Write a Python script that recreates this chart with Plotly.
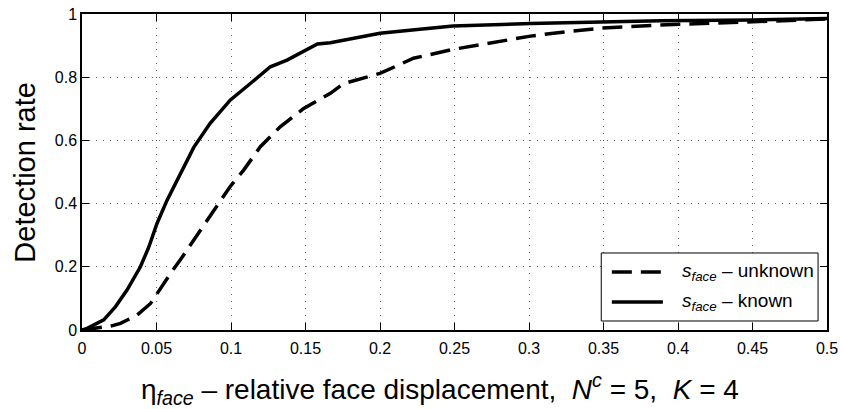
import plotly.graph_objects as go

# Detection rate vs. relative face displacement
eta_unknown = [0, 0.008, 0.019, 0.0258, 0.037, 0.046, 0.0504, 0.0594, 0.066, 0.0705,
               0.075, 0.084, 0.093, 0.0996, 0.1085, 0.1197, 0.133, 0.1488, 0.1667,
               0.1756, 0.2, 0.2225, 0.249, 0.274, 0.301, 0.325, 0.348, 0.388, 0.433, 0.5]
rate_unknown = [0, 0.005, 0.012, 0.021, 0.047, 0.084, 0.116, 0.179, 0.222, 0.253,
                0.285, 0.345, 0.411, 0.455, 0.506, 0.58, 0.643, 0.701, 0.749,
                0.78, 0.812, 0.86, 0.888, 0.909, 0.930, 0.944, 0.955, 0.965, 0.973, 0.984]

eta_known = [0, 0.0035, 0.0146, 0.0225, 0.0303, 0.0392, 0.0448, 0.0504, 0.0571, 0.0638,
             0.075, 0.086, 0.0996, 0.113, 0.1264, 0.1376, 0.15, 0.158,
             0.1667, 0.2, 0.225, 0.249, 0.301, 0.348, 0.388, 0.45, 0.5]
rate_known = [0, 0.005, 0.032, 0.074, 0.127, 0.2, 0.262, 0.338, 0.411, 0.475,
              0.578, 0.654, 0.728, 0.78, 0.833, 0.854, 0.886, 0.905,
              0.909, 0.939, 0.951, 0.962, 0.97, 0.975, 0.979, 0.981, 0.986]

x_ticks = [0, 0.05, 0.1, 0.15, 0.2, 0.25, 0.3, 0.35, 0.4, 0.45, 0.5]
x_labels = ["0", "0.05", "0.1", "0.15", "0.2", "0.25", "0.3", "0.35", "0.4", "0.45", "0.5"]
y_ticks = [0, 0.2, 0.4, 0.6, 0.8, 1]
y_labels = ["0", "0.2", "0.4", "0.6", "0.8", "1"]

series_names = ["<i>s</i><sub><i>face</i></sub> \u2013 unknown",
                "<i>s</i><sub><i>face</i></sub> \u2013 known"]
series_dash = ["20px,9px", "solid"]

FONT = "Liberation Sans, Arial, Helvetica, sans-serif"
LINE_W = 3.5

fig = go.Figure()
fig.add_trace(go.Scatter(
    x=eta_unknown, y=rate_unknown, mode="lines", name=series_names[0],
    line=dict(color="black", width=LINE_W, dash=series_dash[0]),
))
fig.add_trace(go.Scatter(
    x=eta_known, y=rate_known, mode="lines", name=series_names[1],
    line=dict(color="black", width=LINE_W, dash=series_dash[1]),
))

axis_common = dict(
    showline=True, linecolor="black", linewidth=1.5, mirror="ticks",
    ticks="inside", ticklen=7, tickcolor="black", tickwidth=1,
    showgrid=True, gridcolor="#666666", griddash="1px,6px", gridwidth=1,
    zeroline=False, automargin=False,
    tickfont=dict(family=FONT, size=16, color="black"),
)

fig.update_xaxes(range=[0, 0.5], tickvals=x_ticks, ticktext=x_labels,
                 ticklabelstandoff=3, **axis_common)
fig.update_yaxes(range=[0, 1], tickvals=y_ticks, ticktext=y_labels, **axis_common)

# Boxed legend with long line samples, placed in the lower-right corner
box = dict(x0=0.697, x1=0.988, y0=0.0285, y1=0.2437)
rows_y = [0.1835, 0.0886]
sample_x = (0.7112, 0.7797)
label_x = 0.8028

shapes = [dict(type="rect", xref="paper", yref="paper", layer="above",
               fillcolor="white", line=dict(color="black", width=1), **box)]
legend_notes = []
for name, dash, ry in zip(series_names, series_dash, rows_y):
    shapes.append(dict(type="line", xref="paper", yref="paper", layer="above",
                       x0=sample_x[0], x1=sample_x[1], y0=ry, y1=ry,
                       line=dict(color="black", width=LINE_W, dash=dash)))
    legend_notes.append(dict(text=name, xref="paper", yref="paper",
                             x=label_x, y=ry, xanchor="left", yanchor="middle",
                             showarrow=False,
                             font=dict(family=FONT, size=19, color="black")))

fig.update_layout(
    width=843, height=409,
    margin=dict(l=81.5, r=16, t=14, b=79),
    paper_bgcolor="white", plot_bgcolor="white",
    font=dict(family=FONT, color="black"),
    showlegend=False,
    shapes=shapes,
    annotations=[
        dict(
            text="Detection rate", xref="paper", yref="paper",
            x=-0.077, y=0.5, xanchor="center", yanchor="middle",
            textangle=-90, showarrow=False,
            font=dict(family=FONT, size=29, color="black"),
        ),
        dict(
            text="\u03b7<sub><i>face</i></sub> \u2013 relative face displacement, \u00a0"
                 "<i>N</i><sup><i>c</i></sup> = 5, \u00a0<i>K</i> = 4",
            xref="paper", yref="paper",
            x=0.481, y=-0.117, xanchor="center", yanchor="top",
            showarrow=False,
            font=dict(family=FONT, size=28, color="black"),
        ),
    ] + legend_notes,
)

fig.write_html("out.html")
